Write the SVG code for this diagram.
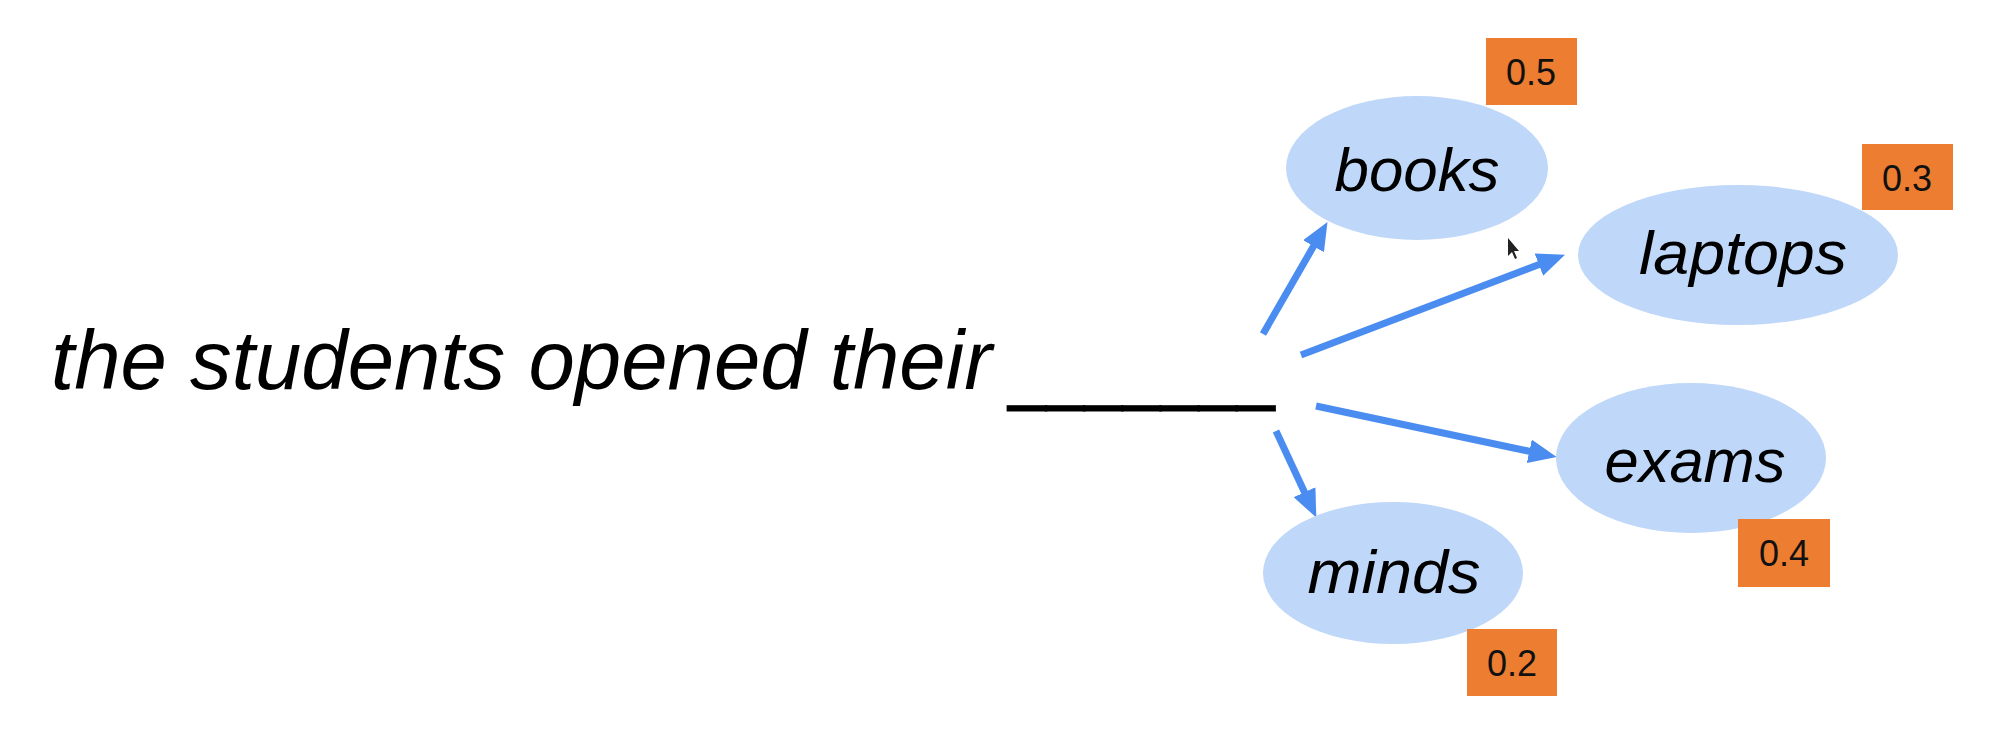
<svg xmlns="http://www.w3.org/2000/svg" width="2000" height="740" viewBox="0 0 2000 740">
<style>
.bub{fill:#bfd7f8}
.w{font-family:"Liberation Sans",Arial,sans-serif;font-style:italic;fill:#000;text-anchor:middle}
.badge{fill:#ed7d31}
.num{font-family:"Liberation Sans",Arial,sans-serif;font-size:36px;fill:#111;text-anchor:middle}
.arr{stroke:#4a8cf0;stroke-width:7;fill:none}
</style>
<defs>
<marker id="ah" viewBox="0 0 28 24" refX="13" refY="12" markerWidth="28" markerHeight="24" markerUnits="userSpaceOnUse" orient="auto">
<path d="M0,0 L28,12 L0,24 z" fill="#4a8cf0"/>
</marker>
</defs>
<rect width="2000" height="740" fill="#ffffff"/>
<g id="sentence">
<text x="51" y="389" font-family="Liberation Sans, Arial, sans-serif" font-style="italic" font-size="84" textLength="941" lengthAdjust="spacingAndGlyphs" fill="#000">the students opened their</text>
<text x="1008" y="394" font-family="Liberation Sans, Arial, sans-serif" font-size="84" textLength="267" lengthAdjust="spacingAndGlyphs" fill="#000" stroke="#000" stroke-width="0.8">_______</text>
</g>
<g id="connectors">
<line class="arr" x1="1263" y1="334" x2="1320" y2="235" marker-end="url(#ah)"/>
<line class="arr" x1="1301" y1="355" x2="1551" y2="260" marker-end="url(#ah)"/>
<line class="arr" x1="1316" y1="406" x2="1542" y2="454" marker-end="url(#ah)"/>
<line class="arr" x1="1276" y1="431" x2="1310" y2="504" marker-end="url(#ah)"/>
</g>
<g id="books">
<ellipse class="bub" cx="1417" cy="168" rx="131" ry="72"/>
<text class="w" x="1417" y="191" font-size="62" textLength="165" lengthAdjust="spacingAndGlyphs">books</text>
<rect class="badge" x="1486" y="38" width="91" height="67"/>
<text class="num" x="1531" y="85">0.5</text>
</g>
<g id="laptops">
<ellipse class="bub" cx="1738" cy="255" rx="160" ry="70"/>
<text class="w" x="1743" y="274" font-size="62" textLength="208" lengthAdjust="spacingAndGlyphs">laptops</text>
<rect class="badge" x="1862" y="144" width="91" height="66"/>
<text class="num" x="1907" y="191">0.3</text>
</g>
<g id="exams">
<ellipse class="bub" cx="1691" cy="458" rx="135" ry="75"/>
<text class="w" x="1695" y="482" font-size="62" textLength="181" lengthAdjust="spacingAndGlyphs">exams</text>
<rect class="badge" x="1738" y="519" width="92" height="68"/>
<text class="num" x="1784" y="566">0.4</text>
</g>
<g id="minds">
<ellipse class="bub" cx="1393" cy="573" rx="130" ry="71"/>
<text class="w" x="1394" y="593" font-size="62" textLength="173" lengthAdjust="spacingAndGlyphs">minds</text>
<rect class="badge" x="1467" y="629" width="90" height="67"/>
<text class="num" x="1512" y="676">0.2</text>
</g>
<g id="cursor">
<path d="M1508,238 L1508,256 L1512,252 L1515,259 L1517,258 L1514,251 L1519,251 Z" fill="#222"/>
</g>
</svg>
